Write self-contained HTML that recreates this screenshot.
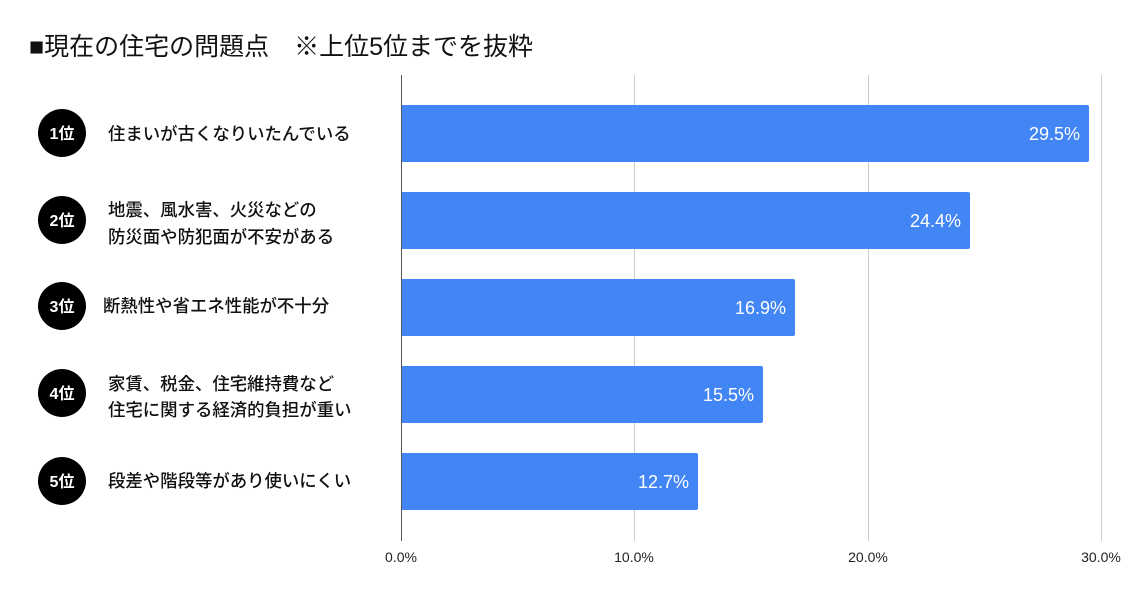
<!DOCTYPE html>
<html><head><meta charset="utf-8"><style>
html,body{margin:0;padding:0;background:#fff;}
svg{display:block;}
</style></head><body>
<svg width="1130" height="594" xmlns="http://www.w3.org/2000/svg" font-family="'Liberation Sans','Noto Sans CJK JP',sans-serif">
<text x="29" y="55" font-size="25" fill="#111">■現在の住宅の問題点　※上位5位までを抜粋</text>
<g stroke="#ccc" stroke-width="1">
<line x1="634.5" y1="75" x2="634.5" y2="541"/>
<line x1="868.5" y1="75" x2="868.5" y2="541"/>
<line x1="1101.5" y1="75" x2="1101.5" y2="541"/>
</g>
<g fill="#4285F4">
<rect x="401" y="105" width="688" height="57" rx="2"/>
<rect x="401" y="192" width="569" height="57" rx="2"/>
<rect x="401" y="279" width="394" height="57" rx="2"/>
<rect x="401" y="366" width="362" height="57" rx="2"/>
<rect x="401" y="453" width="297" height="57" rx="2"/>
</g>
<line x1="401.5" y1="75" x2="401.5" y2="541" stroke="#555" stroke-width="1"/>
<g fill="#fff" font-size="18" text-anchor="end">
<text x="1080" y="140">29.5%</text>
<text x="961" y="227">24.4%</text>
<text x="786" y="314">16.9%</text>
<text x="754" y="401">15.5%</text>
<text x="689" y="488">12.7%</text>
</g>
<g fill="#222" font-size="14" text-anchor="middle">
<text x="401" y="562">0.0%</text>
<text x="634" y="562">10.0%</text>
<text x="868" y="562">20.0%</text>
<text x="1101" y="562">30.0%</text>
</g>
<g fill="#000">
<circle cx="62" cy="133" r="24"/>
<circle cx="62" cy="220" r="24"/>
<circle cx="62" cy="306" r="24"/>
<circle cx="62" cy="393" r="24"/>
<circle cx="62" cy="481" r="24"/>
</g>
<g fill="#fff" font-size="16" font-weight="bold" text-anchor="middle">
<text x="62" y="139">1位</text>
<text x="62" y="226">2位</text>
<text x="62" y="312">3位</text>
<text x="62" y="399">4位</text>
<text x="62" y="487">5位</text>
</g>
<g fill="#111" font-size="17.4" font-weight="500">
<text x="108" y="140">住まいが古くなりいたんでいる</text>
<text x="108" y="216">地震、風水害、火災などの</text>
<text x="108" y="243">防災面や防犯面が不安がある</text>
<text x="103" y="312">断熱性や省エネ性能が不十分</text>
<text x="108" y="390">家賃、税金、住宅維持費など</text>
<text x="108" y="416">住宅に関する経済的負担が重い</text>
<text x="108" y="487">段差や階段等があり使いにくい</text>
</g>
</svg>
</body></html>
